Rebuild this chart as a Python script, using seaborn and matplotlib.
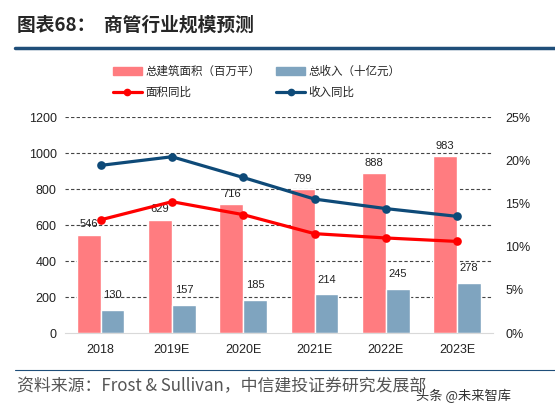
import numpy as np
import pandas as pd
import matplotlib
matplotlib.use("Agg")
import matplotlib.pyplot as plt
import seaborn as sns
from matplotlib.patches import Patch
from matplotlib.lines import Line2D

# data
years = ["2018", "2019E", "2020E", "2021E", "2022E", "2023E"]
area = [546, 629, 716, 799, 888, 983]          # 总建筑面积（百万平）
revenue = [130, 157, 185, 214, 245, 278]       # 总收入（十亿元）
area_yoy = [13.1, 15.2, 13.7, 11.5, 11.0, 10.6]      # 面积同比 %
revenue_yoy = [19.4, 20.4, 18.0, 15.5, 14.4, 13.5]   # 收入同比 %
left_ticks = [0, 200, 400, 600, 800, 1000, 1200]
right_ticks = [0, 5, 10, 15, 20, 25]

bar_names = ["总建筑面积（百万平）", "总收入（十亿元）"]
line_names = ["面积同比", "收入同比"]
bar_colors = ["#FF7C80", "#7FA4BF"]
line_colors = ["#FF0000", "#0E4A78"]

sns.set_style("white")
plt.rcParams["font.family"] = ["Liberation Sans", "Noto Sans CJK SC", "DejaVu Sans"]

bars = pd.DataFrame({
    "year": years * 2,
    "value": area + revenue,
    "series": [bar_names[0]] * 6 + [bar_names[1]] * 6,
})
lines = pd.DataFrame({
    "year": years * 2,
    "rate": area_yoy + revenue_yoy,
    "series": [line_names[0]] * 6 + [line_names[1]] * 6,
})

fig = plt.figure(figsize=(5.55, 4.17), dpi=100)
ax = fig.add_axes([0.117, 0.2014, 0.771, 0.518])

sns.barplot(data=bars, x="year", y="value", hue="series", palette=bar_colors,
            width=0.67, saturation=1, ax=ax, legend=False)
ax.set_ylim(0, 1200)
ax.set_yticks(left_ticks)
ax.set_xlim(-0.5, 5.5)
for y in left_ticks[1:]:
    ax.axhline(y, color="#444444", lw=0.8, ls=(0, (3, 2)), zorder=0)
for c in ax.containers:
    ax.bar_label(c, padding=4 if c is ax.containers[0] else 7, fontsize=8,
                 color="#222222")

ax2 = ax.twinx()
sns.pointplot(data=lines, x="year", y="rate", hue="series", palette=line_colors,
              ax=ax2, markersize=4.5, linewidth=2.3, legend=False, errorbar=None)
ax2.set_ylim(0, 25)
ax2.set_yticks(right_ticks)
ax2.set_yticklabels([f"{t}%" for t in right_ticks])
ax2.set_xlim(-0.5, 5.5)

for a in (ax, ax2):
    for s in a.spines.values():
        s.set_visible(False)
    a.set_xlabel("")
    a.set_ylabel("")
    a.tick_params(length=0, labelsize=9, colors="#222222")
ax.spines["bottom"].set_visible(True)
ax.spines["bottom"].set_color("#D9D9D9")
ax.tick_params(axis="x", pad=8)
ax.tick_params(axis="y", pad=6)
ax2.tick_params(axis="y", pad=9)

handles = [Patch(color=bar_colors[0]), Line2D([], [], color=line_colors[0], lw=2.3, marker="o", ms=4.5),
           Patch(color=bar_colors[1]), Line2D([], [], color=line_colors[1], lw=2.3, marker="o", ms=4.5)]
labels = [bar_names[0], line_names[0], bar_names[1], line_names[1]]
fig.legend(handles, labels, ncol=2, loc="upper left", bbox_to_anchor=(0.185, 0.87),
           frameon=False, handlelength=2.5, handleheight=0.7,
           columnspacing=1.4, handletextpad=0.3, labelspacing=0.75,
           prop={"family": ["Noto Sans CJK SC"], "size": 8.3})

# header and footer
fig.text(0.03, 0.94, "图表68：  商管行业规模预测", fontsize=13.5, fontweight="bold",
         family=["Noto Sans CJK SC"], va="center")
fig.add_artist(Line2D([0.027, 1.0], [0.884, 0.884], color="#1F4E79", lw=2.5))
fig.add_artist(Line2D([0.027, 1.0], [0.113, 0.113], color="#1F4E79", lw=0.8))
fig.text(0.03, 0.075, "资料来源：Frost & Sullivan，中信建投证券研究发展部", fontsize=12.2,
         family=["Noto Sans CJK SC"], color="#555555", va="center", style="italic")
fig.text(0.75, 0.05, "头条 @未来智库", fontsize=9.5, family=["Noto Sans CJK SC"],
         color="#333333", va="center")

fig.savefig("out.png", dpi=100)
